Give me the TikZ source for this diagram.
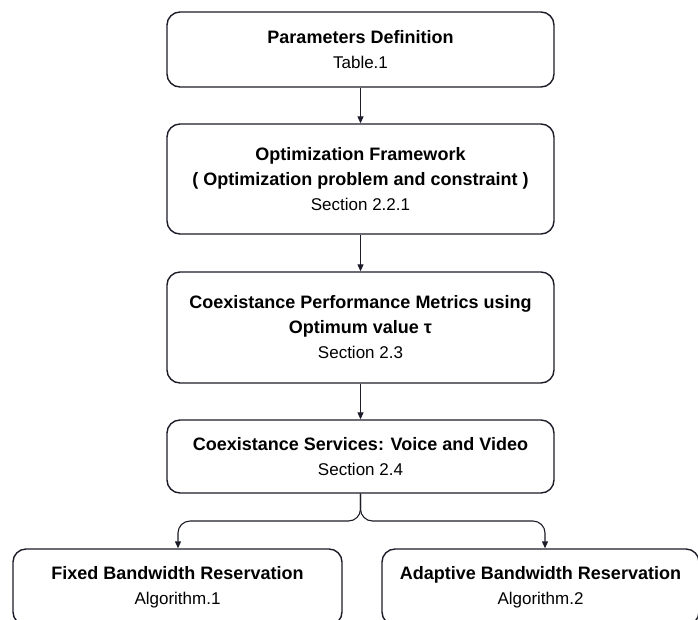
\documentclass[tikz,border=0pt]{standalone}
\usepackage{fontspec}
\setmainfont{Liberation Sans}
\usetikzlibrary{arrows.meta}
\definecolor{linec}{RGB}{28,28,40}
\newcommand\ttl[1]{{\bfseries\fontsize{18}{25}\selectfont #1}}
\begin{document}
\begin{tikzpicture}[x=1pt,y=-1pt,
  box/.style={draw=linec, line width=1.4pt, rounded corners=13pt, align=center,
    inner sep=0pt, font=\fontsize{17}{25}\selectfont},
  conn/.style={draw=linec, line width=1.1pt, -{Triangle[length=7pt,width=6pt]}}]
\useasboundingbox (0,0) rectangle (698,619);

\node[box, minimum width=387pt, minimum height=75pt] (p) at (360.5,49.5)
  {\ttl{Parameters Definition}\\Table.1};
\node[box, minimum width=387pt, minimum height=110pt] (o) at (360.5,179)
  {\ttl{Optimization Framework}\\\ttl{( Optimization problem and constraint )}\\Section 2.2.1};
\node[box, minimum width=387pt, minimum height=111pt] (m) at (360.5,327.5)
  {\ttl{Coexistance Performance Metrics using}\\\ttl{Optimum value τ}\\Section 2.3};
\node[box, minimum width=387pt, minimum height=73pt] (s) at (360.5,456.5)
  {\ttl{Coexistance Services: Voice and Video}\\Section 2.4};
\node[box, minimum width=329pt, minimum height=76pt] (l) at (177.5,587)
  {\ttl{Fixed Bandwidth Reservation}\\Algorithm.1};
\node[box, minimum width=317pt, minimum height=76pt] (r) at (540.5,587)
  {\ttl{Adaptive Bandwidth Reservation}\\Algorithm.2};

\draw[conn] (p) -- (o);
\draw[conn] (o) -- (m);
\draw[conn] (m) -- (s);

\coordinate (bl) at (178,521);
\coordinate (br) at (545,521);
\draw[conn, rounded corners=12pt] (s.south) -- (s.south |- bl) -- (bl) -- (l.north -| bl);
\draw[conn, rounded corners=12pt] (s.south) -- (s.south |- br) -- (br) -- (r.north -| br);
\end{tikzpicture}
\end{document}
